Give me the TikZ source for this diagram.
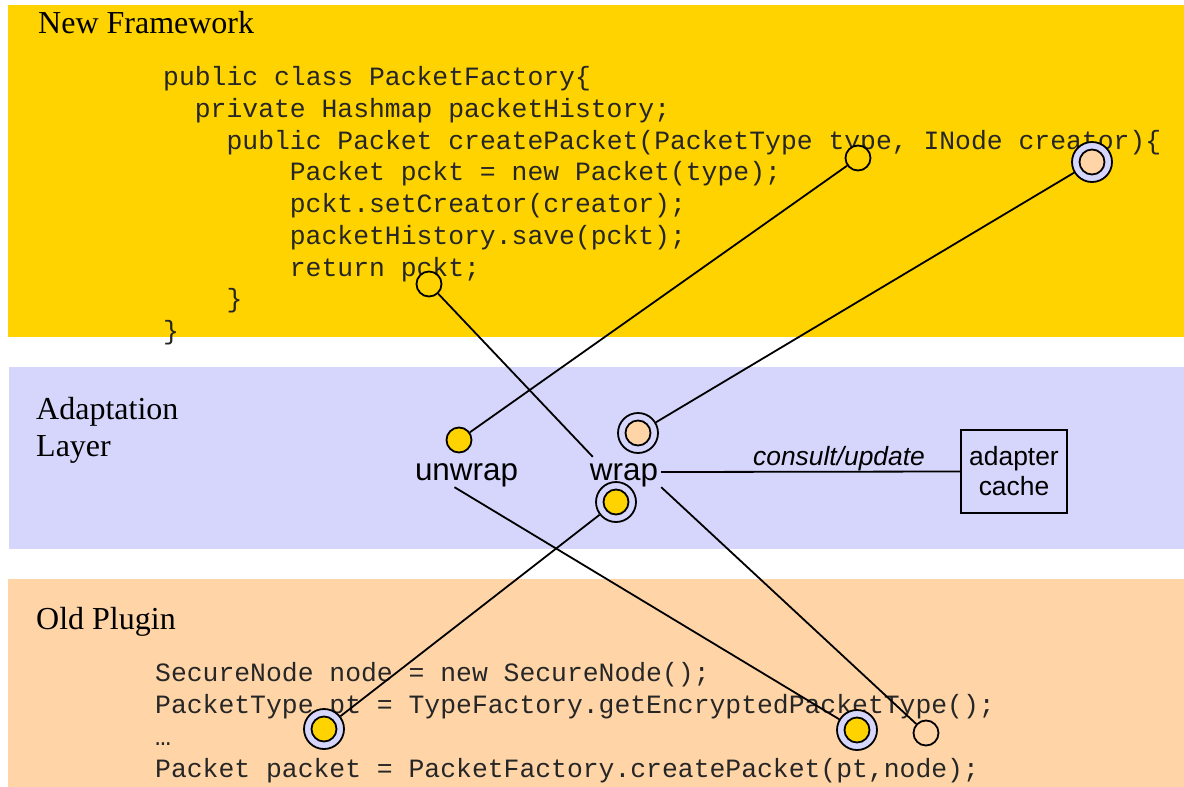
\documentclass[tikz,border=0pt]{standalone}
\usepackage{fontspec}
\setmainfont{Liberation Serif}
\setsansfont{Liberation Sans}
\setmonofont{Liberation Mono}
\definecolor{bandyellow}{RGB}{255,211,0}
\definecolor{bandlav}{RGB}{214,214,252}
\definecolor{bandpeach}{RGB}{255,213,168}

\begin{document}
\begin{tikzpicture}[x=1pt,y=-1pt,
  title/.style={font=\fontsize{32}{37}\selectfont\rmfamily, anchor=base west, inner sep=0pt},
  code/.style={font=\fontsize{26.4}{32}\selectfont\ttfamily, anchor=base west, inner sep=0pt, text=black!85},
  conn/.style={line width=1.8pt},
  dot/.style={circle, draw, line width=1.8pt, minimum size=25pt, inner sep=0pt, fill=#1},
  ring/.style={circle, draw, line width=1.8pt, minimum size=40pt, inner sep=0pt, fill=bandlav,
    path picture={\draw[line width=1.8pt, fill=#1] (path picture bounding box.center) circle (12.5pt);}},
  op/.style={font=\fontsize{31.4}{36}\selectfont\sffamily, anchor=base, inner xsep=3pt, inner ysep=0pt,
    text height=23pt, text depth=7pt},
]
\useasboundingbox (0,0) rectangle (1184,787);

% layer bands
\fill[bandyellow] (8,5) rectangle (1184,337);
\fill[bandlav] (9,367) rectangle (1184,549);
\fill[bandpeach] (8,579) rectangle (1184,787);

% band titles
\node[title] (tNew) at (38,33) {New Framework};
\node[title] (tAdaptA) at (36,419) {Adaptation};
\node[title] (tAdaptB) at (36,456) {Layer};
\node[title] (tOld) at (36,629) {Old Plugin};

% new framework code
\node[code] (y1) at (163,85) {public class PacketFactory\{};
\node[code] (y2) at (194.7,117) {private Hashmap packetHistory;};
\node[code] (y3) at (226.4,149) {public Packet createPacket(PacketType type, INode creator)\{};
\node[code] (y4) at (289.7,180) {Packet pckt = new Packet(type);};
\node[code] (y5) at (289.7,212) {pckt.setCreator(creator);};
\node[code] (y6) at (289.7,244) {packetHistory.save(pckt);};
\node[code] (y7) at (289.7,276) {return pckt;};
\node[code] (y8) at (226.4,307) {\}};
\node[code] (y9) at (163,339) {\}};

% old plugin code
\node[code] (p1) at (155,681) {SecureNode node = new SecureNode();};
\node[code] (p2) at (155,713) {PacketType pt = TypeFactory.getEncryptedPacketType();};
\node[code] (p3) at (155,745) {…};
\node[code] (p4) at (155,777) {Packet packet = PacketFactory.createPacket(pt,node);};

% adaptation layer
\node[op] (unwrap) at (466.5,480) {unwrap};
\node[op] (wrap) at (624,480) {wrap};
\node[draw, line width=1.8pt, minimum width=106pt, minimum height=83pt, align=center,
  font=\fontsize{26.4}{30}\selectfont\sffamily, inner sep=0pt] (cache) at (1014,471.5) {adapter\\cache};
\node[font=\fontsize{26.4}{30}\selectfont\sffamily\itshape, anchor=base, inner sep=0pt] (lbl) at (839,465) {consult/update};

% ports
\node[dot=bandyellow] (retp) at (429,284) {};
\node[dot=bandyellow] (typep) at (858,158) {};
\node[ring=bandpeach] (creatorp) at (1092,162) {};
\node[dot=bandyellow] (unwrapin) at (459,440) {};
\node[ring=bandpeach] (wrapin) at (638,433) {};
\node[ring=bandyellow] (wrapout) at (616,502) {};
\node[ring=bandyellow] (ptp) at (324,729) {};
\node[ring=bandyellow] (nodep) at (857,730) {};
\node[dot=bandpeach] (pktp) at (926,733) {};

% connections
\draw[conn] (retp) -- ([xshift=6pt]wrap.north west);
\draw[conn] (typep) -- (unwrapin);
\draw[conn] (creatorp) -- (wrapin);
\draw[conn] (wrapout) -- (ptp);
\draw[conn] ([xshift=-12pt]unwrap.south) -- (nodep);
\draw[conn] (wrap.south east) -- (pktp);
\draw[conn] (wrap.east) -- (cache.west);
\end{tikzpicture}
\end{document}
